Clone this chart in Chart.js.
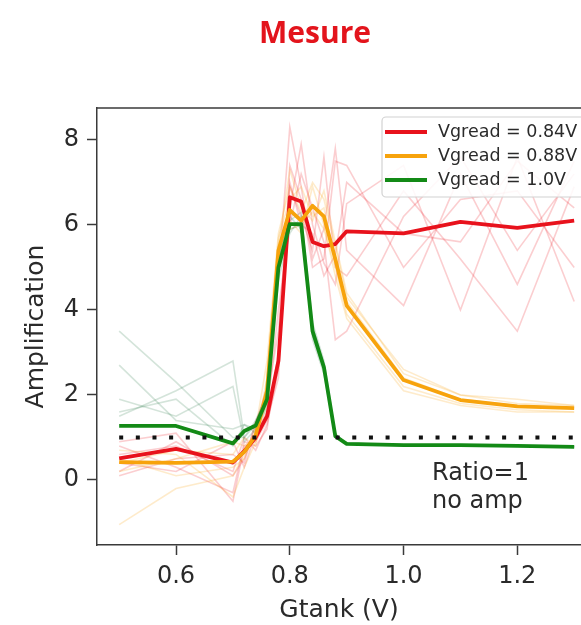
<!DOCTYPE html>
<html>
<head>
<meta charset="utf-8">
<title>Mesure</title>
<script src="https://cdn.jsdelivr.net/npm/chart.js@4.4.1/dist/chart.umd.min.js"></script>
<style>
  html, body { margin: 0; padding: 0; background: #fff; overflow: hidden; }
  #chart { display: block; }
</style>
</head>
<body>
<canvas id="chart" width="581" height="625"></canvas>
<script>
/* ─── DATA ─── */
// Gtank sweep (V), shared by every trace
const gtank = [0.5, 0.6, 0.7, 0.72, 0.74, 0.76, 0.78, 0.8, 0.82, 0.84, 0.86, 0.88, 0.9, 1.0, 1.1, 1.2, 1.3];

// mean amplification per Vgread
const red84    = [0.51, 0.73, 0.41, 0.68, 1.0, 1.5, 2.8, 6.65, 6.55, 5.6, 5.5, 5.55, 5.85, 5.8, 6.07, 5.93, 6.1];
const orange88 = [0.42, 0.40, 0.43, 0.66, 1.05, 2.1, 5.4, 6.35, 6.1, 6.45, 6.2, 5.2, 4.1, 2.35, 1.88, 1.73, 1.69];
const green10  = [1.27, 1.27, 0.86, 1.15, 1.28, 1.9, 5.0, 6.02, 6.02, 3.5, 2.65, 1.03, 0.85, 0.82, 0.82, 0.8, 0.78];

// individual runs (drawn faint behind the means)
const redRuns = [
  [0.2, 0.9, 0.1, 0.5, 1.3, 2.2, 4.8, 8.3, 6.9, 5.2, 5.9, 7.8, 5.4, 4.1, 7.2, 4.6, 7.5],
  [0.8, 0.3, -0.3, 0.9, 0.8, 1.2, 3.0, 6.4, 7.9, 6.0, 5.1, 4.6, 6.5, 7.4, 4.0, 7.6, 4.2],
  [0.1, 0.5, 0.6, 0.4, 1.4, 1.9, 3.5, 6.9, 6.2, 5.4, 7.6, 5.0, 4.8, 6.8, 5.2, 3.5, 6.9],
  [0.9, 1.1, -0.5, 0.8, 0.9, 1.4, 2.4, 7.4, 6.6, 5.0, 5.2, 7.5, 7.4, 5.0, 6.6, 6.8, 5.0],
  [0.4, 0.2, 0.9, 0.3, 1.1, 1.6, 4.0, 6.0, 7.2, 6.4, 5.6, 3.3, 3.5, 6.2, 7.6, 5.4, 7.2],
  [0.6, 0.8, 0.2, 1.0, 0.7, 1.3, 2.6, 7.0, 6.0, 5.8, 4.8, 5.3, 7.0, 5.8, 5.6, 7.5, 6.4]
];
const orangeRuns = [
  [-1.05, -0.2, 0.1, 0.6, 1.2, 2.8, 5.8, 6.9, 6.3, 7.0, 6.6, 5.5, 4.3, 2.6, 2.0, 1.8, 1.75],
  [0.7, 0.6, -0.4, 0.3, 0.9, 1.8, 4.9, 6.1, 5.8, 6.9, 6.0, 4.8, 3.8, 2.1, 1.75, 1.6, 1.6],
  [0.2, 0.5, 0.9, 0.8, 1.0, 2.4, 5.5, 7.3, 6.4, 6.1, 6.8, 5.6, 4.4, 2.5, 2.0, 1.9, 1.75],
  [0.5, 0.1, 0.3, 0.5, 1.1, 1.5, 5.2, 5.9, 6.0, 6.3, 5.9, 5.0, 3.9, 2.2, 1.8, 1.65, 1.6],
  [0.4, 0.7, 0.6, 1.0, 0.8, 2.2, 5.7, 6.6, 6.9, 6.2, 6.4, 5.1, 4.2, 2.4, 1.9, 1.75, 1.7]
];
const greenRuns = [
  [3.5, 2.3, 1.0, 1.0, 1.3, 2.1, 5.2, 6.3, 6.1, 3.3, 2.5, 1.0, 0.86, 0.83, 0.82, 0.81, 0.79],
  [2.7, 1.4, 1.2, 1.3, 1.2, 1.7, 4.7, 5.8, 6.2, 3.7, 2.8, 1.1, 0.84, 0.82, 0.83, 0.8, 0.78],
  [1.5, 2.1, 2.8, 1.0, 1.4, 2.0, 5.1, 6.2, 5.9, 3.4, 2.6, 1.0, 0.87, 0.82, 0.81, 0.8, 0.77],
  [1.9, 1.5, 2.2, 0.9, 1.2, 1.8, 4.9, 5.9, 6.0, 3.6, 2.7, 1.05, 0.85, 0.81, 0.82, 0.79, 0.78],
  [1.6, 1.9, 0.8, 1.3, 1.1, 1.9, 5.3, 6.1, 6.3, 3.5, 2.6, 1.0, 0.86, 0.83, 0.82, 0.8, 0.79]
];

// ratio = 1 reference
const ratioX = [0.5, 1.3];
const ratioY = [1, 1];

const seriesLabels = ['Vgread = 0.84V', 'Vgread = 0.88V', 'Vgread = 1.0V'];
const noteLines = ['Ratio=1', 'no amp'];
const noteX = 1.05;
const noteY = 0;

const xTicks = [0.6, 0.8, 1.0, 1.2];
const yTicks = [0, 2, 4, 6, 8];
const xRange = [0.461, 1.312];
const yRange = [-1.53, 8.75];

/* ─── STYLE ─── */
const FONT = "'DejaVu Sans', sans-serif";
const COLORS = {
  red:    '#e8121c',
  orange: '#f7a30c',
  green:  '#138a16',
  ratio:  '#111111',
  axis:   '#3a3a3a',
  text:   '#2a2a2a',
};
const FAINT = {
  red:    'rgba(235, 30, 40, 0.22)',
  orange: 'rgba(250, 165, 20, 0.22)',
  green:  'rgba(40, 120, 70, 0.2)',
};

function points(ys) {
  return gtank.map((x, i) => ({ x, y: ys[i] }));
}

function mainLine(label, ys, color, order) {
  return {
    label, data: points(ys),
    borderColor: color, borderWidth: 3.8,
    pointRadius: 0, tension: 0, fill: false,
    borderJoinStyle: 'round', order,
  };
}

function faintLine(ys, color) {
  return {
    label: '', data: points(ys),
    borderColor: color, borderWidth: 1.6,
    pointRadius: 0, tension: 0, fill: false,
    order: 10,
  };
}

/* ─── OVERLAYS: frame top, title, note, legend ─── */
const overlays = {
  id: 'overlays',
  afterDraw(chart) {
    const { ctx, chartArea: a, scales } = chart;
    ctx.save();

    // top frame edge (no right edge: plot runs off the page)
    ctx.strokeStyle = COLORS.axis;
    ctx.lineWidth = 1.5;
    ctx.beginPath();
    ctx.moveTo(a.left, a.top);
    ctx.lineTo(a.right, a.top);
    ctx.stroke();

    // title
    ctx.fillStyle = '#e3141c';
    ctx.font = "bold 30px 'Open Sans', sans-serif";
    ctx.textAlign = 'center';
    ctx.textBaseline = 'alphabetic';
    ctx.fillText('Mesure', 315, 43);

    // ratio note
    ctx.fillStyle = COLORS.text;
    ctx.font = `24px ${FONT}`;
    ctx.textAlign = 'left';
    const nx = scales.x.getPixelForValue(noteX);
    const ny = scales.y.getPixelForValue(noteY);
    noteLines.forEach((t, i) => ctx.fillText(t, nx, ny + i * 28));

    // legend box
    const bx = 382, by = 117, bw = 230, bh = 80, r = 4;
    ctx.beginPath();
    ctx.moveTo(bx + r, by);
    ctx.lineTo(bx + bw, by);
    ctx.lineTo(bx + bw, by + bh);
    ctx.lineTo(bx + r, by + bh);
    ctx.arcTo(bx, by + bh, bx, by + bh - r, r);
    ctx.lineTo(bx, by + r);
    ctx.arcTo(bx, by, bx + r, by, r);
    ctx.closePath();
    ctx.fillStyle = 'rgba(255,255,255,0.88)';
    ctx.fill();
    ctx.strokeStyle = '#d2d2d2';
    ctx.lineWidth = 1.2;
    ctx.stroke();

    ctx.font = `17.5px ${FONT}`;
    ctx.textBaseline = 'middle';
    seriesLabels.forEach((lbl, i) => {
      const ds = chart.data.datasets.find(d => d.label === lbl);
      const y = 132 + i * 24;
      ctx.strokeStyle = ds.borderColor;
      ctx.lineWidth = 4;
      ctx.beginPath();
      ctx.moveTo(bx + 3, y);
      ctx.lineTo(bx + 45, y);
      ctx.stroke();
      ctx.fillStyle = COLORS.text;
      ctx.fillText(lbl, bx + 56, y);
    });

    ctx.restore();
  }
};

/* ─── CHART ─── */
const datasets = [
  {
    label: 'ratio', data: ratioX.map((x, i) => ({ x, y: ratioY[i] })),
    borderColor: COLORS.ratio, borderWidth: 4, borderDash: [4, 12.65],
    borderCapStyle: 'butt', pointRadius: 0, fill: false, order: 0,
  },
  mainLine(seriesLabels[2], green10, COLORS.green, 1),
  mainLine(seriesLabels[1], orange88, COLORS.orange, 2),
  mainLine(seriesLabels[0], red84, COLORS.red, 3),
  ...greenRuns.map(ys => faintLine(ys, FAINT.green)),
  ...orangeRuns.map(ys => faintLine(ys, FAINT.orange)),
  ...redRuns.map(ys => faintLine(ys, FAINT.red)),
];

const axisCommon = {
  grid: { drawOnChartArea: false, drawTicks: true, tickLength: 10, tickColor: COLORS.axis, tickWidth: 1.5 },
  border: { color: COLORS.axis, width: 1.5 },
};

new Chart(document.getElementById('chart'), {
  type: 'line',
  data: { datasets },
  plugins: [overlays],
  options: {
    responsive: false,
    animation: false,
    events: [],
    layout: { padding: { top: 108, left: 0, right: 0, bottom: 0 } },
    plugins: { legend: { display: false }, tooltip: { enabled: false }, title: { display: false } },
    scales: {
      x: {
        ...axisCommon,
        type: 'linear',
        min: xRange[0], max: xRange[1],
        afterBuildTicks: s => { s.ticks = xTicks.map(v => ({ value: v })); },
        afterFit: s => { s.height = 80; },
        ticks: {
          color: COLORS.text, padding: 7, maxRotation: 0,
          font: { family: FONT, size: 24 },
          callback: v => Number(v).toFixed(1),
        },
        title: {
          display: true, text: 'Gtank (V)', color: COLORS.text,
          font: { family: FONT, size: 25, lineHeight: 1.2 },
          padding: { top: 0, bottom: 0 },
        },
      },
      y: {
        ...axisCommon,
        min: yRange[0], max: yRange[1],
        afterBuildTicks: s => { s.ticks = yTicks.map(v => ({ value: v })); },
        afterFit: s => { s.width = 97; },
        ticks: {
          color: COLORS.text, padding: 8,
          font: { family: FONT, size: 24 },
          callback: v => String(v),
        },
        title: {
          display: true, text: 'Amplification', color: COLORS.text,
          font: { family: FONT, size: 25, lineHeight: 1.2 },
          padding: { top: 21, bottom: 0 },
        },
      },
    },
  },
});
</script>
</body>
</html>
